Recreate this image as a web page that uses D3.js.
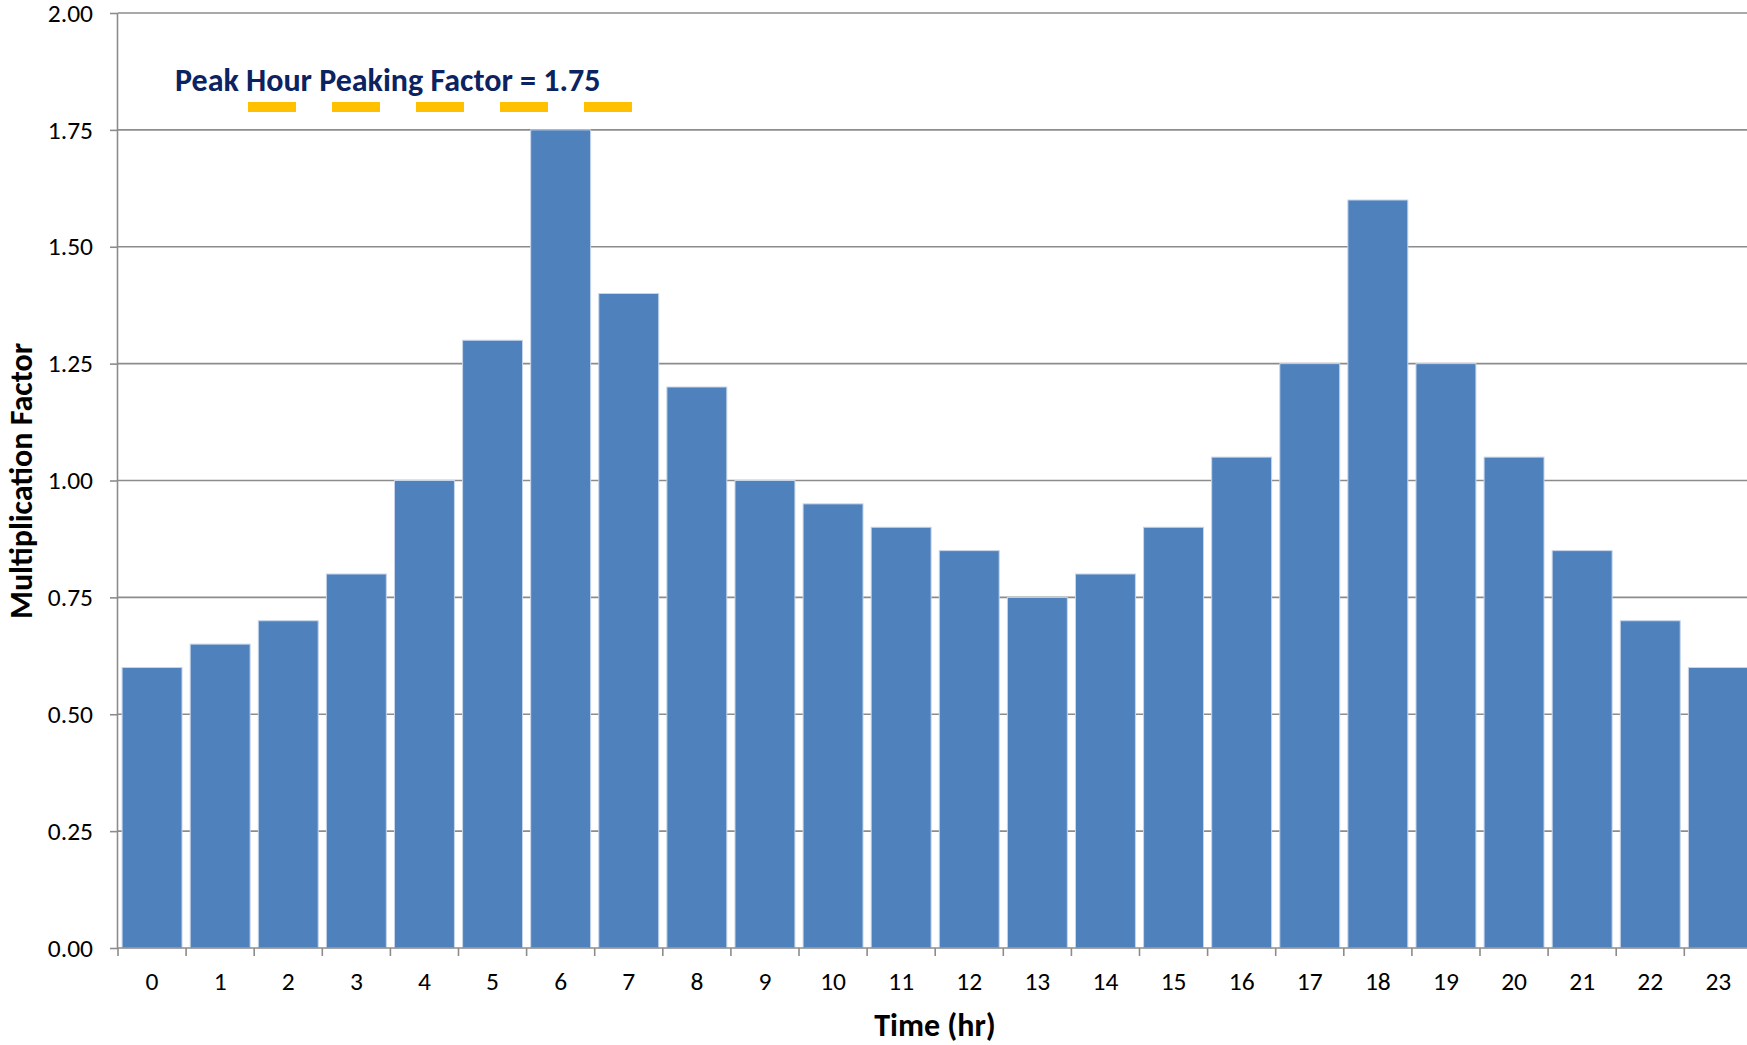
<!DOCTYPE html>
<meta charset="utf-8">
<style>
body { margin: 0; background: #fff; }
svg { display: block; }
text { font-family: Carlito, Calibri, Lato, "Open Sans", sans-serif; }
.grid line { stroke: #8c8c8c; stroke-width: 1.6px; }
.axis path, .axis line { stroke: #8c8c8c; stroke-width: 1.6px; }
.axis text { fill: #000; font-size: 25.5px; font-family: Carlito, Calibri, Lato, sans-serif; }
.title { font-weight: bold; font-size: 32px; fill: #000; }
</style>
<svg width="1747" height="1045"></svg>
<script src="https://d3js.org/d3.v7.min.js"></script>
<script>

// hourly multiplication factors
var hours = d3.range(0, 24).map(String);
var factors = [0.60, 0.65, 0.70, 0.80, 1.00, 1.30, 1.75, 1.40, 1.20, 1.00, 0.95, 0.90,
               0.85, 0.75, 0.80, 0.90, 1.05, 1.25, 1.60, 1.25, 1.05, 0.85, 0.70, 0.60];
var yTicks = [0, 0.25, 0.5, 0.75, 1, 1.25, 1.5, 1.75, 2];
var peakFactor = 1.75;
var peakLabel = "Peak Hour Peaking Factor = " + peakFactor.toFixed(2);

var svg = d3.select("svg"),
    plotLeft = 118, plotTop = 13, plotBottom = 948,
    step = 68.1,
    plotRight = plotLeft + step * hours.length;

var x = d3.scaleBand()
    .domain(hours)
    .range([plotLeft, plotRight])
    .paddingInner(0.12)
    .paddingOuter(0.06);

var y = d3.scaleLinear()
    .domain([0, 2])
    .range([plotBottom, plotTop]);

// gridlines
svg.append("g")
    .attr("class", "grid")
  .selectAll("line")
  .data(yTicks.slice(1))
  .enter().append("line")
    .attr("x1", plotLeft)
    .attr("x2", plotRight)
    .attr("y1", function(d) { return y(d); })
    .attr("y2", function(d) { return y(d); });

// bars
svg.append("g")
  .selectAll("rect")
  .data(factors)
  .enter().append("rect")
    .attr("x", function(d, i) { return x(hours[i]); })
    .attr("y", function(d) { return y(d); })
    .attr("width", x.bandwidth())
    .attr("height", function(d) { return y(0) - y(d); })
    .attr("fill", "#4f81bd")
    .attr("stroke", "#c6d5ea")
    .attr("stroke-width", 1);

// y axis
var yAxis = svg.append("g")
    .attr("class", "axis")
    .attr("transform", "translate(" + plotLeft + ",0)")
    .call(d3.axisLeft(y).tickValues(yTicks).tickFormat(d3.format(".2f")).tickSize(8).tickPadding(17));
yAxis.select(".domain").attr("d", "M-0.5," + plotTop + "V" + plotBottom);

// x axis, ticks between categories
var xAxis = svg.append("g")
    .attr("class", "axis")
    .attr("transform", "translate(0," + plotBottom + ")")
    .call(d3.axisBottom(x).tickSize(0).tickPadding(24));
xAxis.select(".domain").attr("d", "M" + plotLeft + ",0H" + plotRight);
xAxis.selectAll(".sep")
  .data(d3.range(hours.length + 1))
  .enter().append("line")
    .attr("x1", function(i) { return plotLeft + i * step; })
    .attr("x2", function(i) { return plotLeft + i * step; })
    .attr("y1", 0)
    .attr("y2", 8);

// axis titles
svg.append("text")
    .attr("class", "title")
    .attr("transform", "translate(32,481) rotate(-90)")
    .attr("text-anchor", "middle")
    .text("Multiplication Factor");

svg.append("text")
    .attr("class", "title")
    .attr("x", 935)
    .attr("y", 1036)
    .attr("text-anchor", "middle")
    .text("Time (hr)");

// peak annotation
svg.append("text")
    .attr("x", 175)
    .attr("y", 91)
    .attr("fill", "#0b2361")
    .style("font-weight", "bold")
    .style("font-size", "32px")
    .text(peakLabel);

svg.append("line")
    .attr("x1", 248)
    .attr("x2", 634)
    .attr("y1", 107)
    .attr("y2", 107)
    .attr("stroke", "#ffc000")
    .attr("stroke-width", 10)
    .attr("stroke-dasharray", "48 36");

</script>
